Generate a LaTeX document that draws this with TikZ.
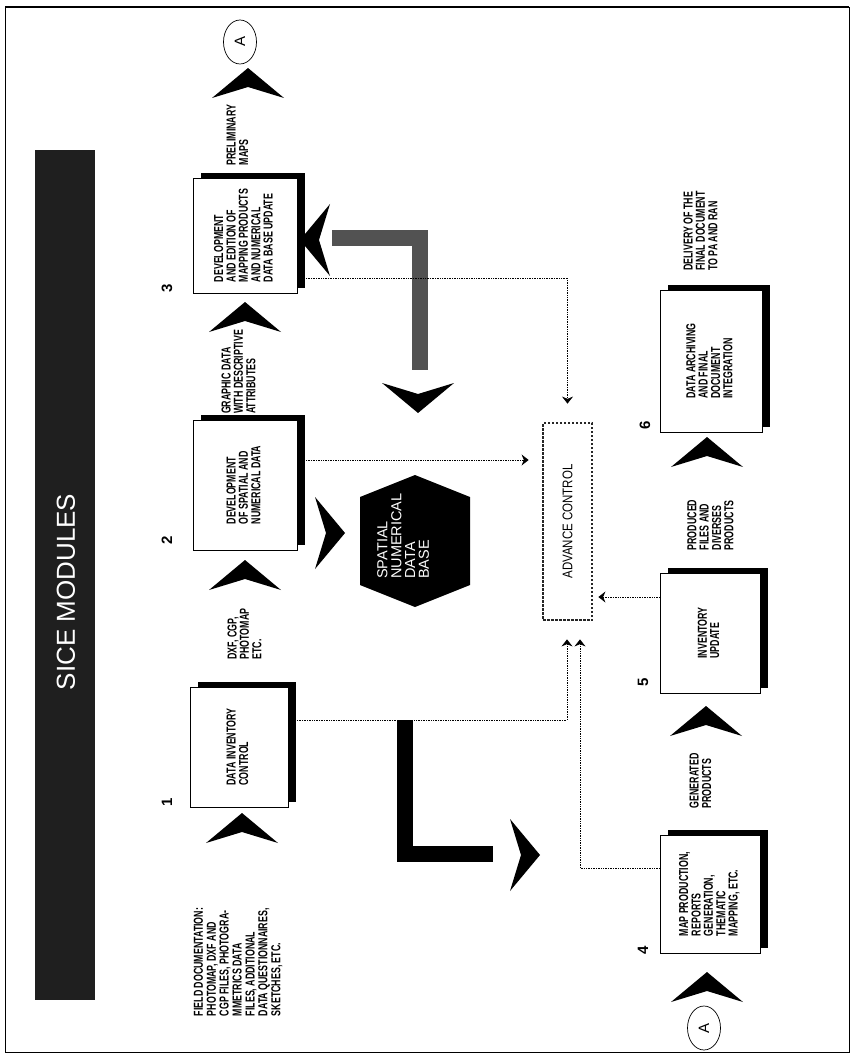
\documentclass[tikz,border=0pt]{standalone}
\usepackage{fontspec}
\setmainfont{Liberation Sans}
\newfontfamily\condfont[FakeStretch=0.68]{Liberation Sans}
\newfontfamily\midfont[FakeStretch=0.82]{Liberation Sans}
\usepackage{graphicx}
\usetikzlibrary{arrows.meta,positioning,shapes.geometric,shadows}
\newcommand{\rtext}[1]{\rotatebox{90}{\begin{tabular}{@{}l@{}}#1\end{tabular}}}

\begin{document}
\begin{tikzpicture}[x=1pt,y=-1pt]
  \tikzset{
    box/.style={draw,fill=white,line width=.7pt,inner sep=0pt,font=\condfont\bfseries\fontsize{13}{11}\selectfont,
      drop shadow={shadow xshift=8pt,shadow yshift=5pt,fill=black,opacity=1}},
    lbl/.style={inner sep=0pt,font=\condfont\bfseries\fontsize{13}{11}\selectfont},
    num/.style={inner sep=0pt,font=\bfseries\fontsize{15}{15}\selectfont},
    circA/.style={draw,ellipse,line width=.7pt,minimum width=33,minimum height=44,inner sep=0pt,font=\fontsize{15}{15}\selectfont},
    acbox/.style={draw=black!85,line width=2.8pt,dash pattern=on 2.5pt off 1.5pt,inner sep=0pt,font=\midfont\fontsize{14}{14}\selectfont},
    dotline/.style={densely dotted,line width=.7pt},
    dotarrow/.style={dotline,-{Stealth[length=7pt,width=11pt]}},
    chev/.pic={\fill (0,0) -- (36,30) -- (0,19) -- (-36,30) -- cycle;}
  }
  \useasboundingbox (0,0) rectangle (851,1064);
  \draw[line width=.6pt] (5,7) rectangle (849,1052);
  \draw[line width=2.5pt] (5,7) -- (849,7);

  \fill[black!88] (35,150) rectangle (95,1000);
  \node[text=white,inner sep=0pt,font=\fontsize{26}{26}\selectfont] (title) at (66,592) {\rotatebox{90}{SICE MODULES}};

  \node[box,minimum width=104,minimum height=115] (b3) at (245,235.5) {\rtext{DEVELOPMENT\\AND EDITION OF\\MAPPING PRODUCTS\\AND NUMERICAL\\DATA BASE UPDATE}};
  \node[box,minimum width=104,minimum height=130] (b2) at (245,485) {\rtext{DEVELOPMENT\\OF SPATIAL AND\\NUMERICAL DATA}};
  \node[box,minimum width=98,minimum height=120] (b1) at (239,747) {\rtext{DATA INVENTORY\\CONTROL}};
  \node[box,minimum width=102,minimum height=142] (b6) at (711,361) {\rtext{DATA ARCHIVING\\AND FINAL\\DOCUMENT\\INTEGRATION}};
  \node[box,minimum width=100,minimum height=120] (b5) at (710,633) {\rtext{INVENTORY\\UPDATE}};
  \node[box,minimum width=100,minimum height=118] (b4) at (710,894) {\rtext{MAP PRODUCTION,\\REPORTS\\GENERATION,\\THEMATIC\\MAPPING, ETC.}};

  \node[num] (n1) at (167,802) {\rotatebox{90}{1}};
  \node[num] (n2) at (167,540) {\rotatebox{90}{2}};
  \node[num] (n3) at (167,288) {\rotatebox{90}{3}};
  \node[num] (n4) at (643,950) {\rotatebox{90}{4}};
  \node[num] (n5) at (643,682) {\rotatebox{90}{5}};
  \node[num] (n6) at (645,425) {\rotatebox{90}{6}};

  \node[lbl,font=\condfont\bfseries\fontsize{13}{12.8}\selectfont] (field) at (239,962) {\rtext{FIELD DOCUMENTATION:\\PHOTOMAP, DXF AND\\CGP FILES, PHOTOGRA-\\MMETRICS DATA\\FILES, ADDITIONAL\\DATA QUESTIONNAIRES,\\SKETCHES, ETC.}};
  \node[lbl] (dxf) at (246,634) {\rtext{DXF, CGP,\\PHOTOMAP\\ETC.}};
  \node[lbl] (graphic) at (240,372) {\rtext{GRAPHIC DATA\\WITH DESCRIPTIVE\\ATTRIBUTES}};
  \node[lbl] (prelim) at (239,135) {\rtext{PRELIMINARY\\MAPS}};
  \node[lbl] (generated) at (702,781) {\rtext{GENERATED\\PRODUCTS}};
  \node[lbl] (produced) at (712,525) {\rtext{PRODUCED\\FILES AND\\DIVERSES\\PRODUCTS}};
  \node[lbl] (delivery) at (702,231) {\rtext{DELIVERY OF THE\\FINAL DOCUMENT\\TO PA AND RAN}};

  \node[circA] (atop) at (240,42) {\rotatebox{90}{A}};
  \node[circA] (abot) at (704,1028) {\rotatebox{90}{A}};

  \fill (415,475) -- (470,497) -- (470,585) -- (415,607) -- (360,585) -- (360,497) -- cycle;
  \node[text=white,inner sep=0pt,font=\fontsize{14.5}{12.5}\selectfont] (db) at (405,536) {\rtext{SPATIAL\\NUMERICAL\\DATA\\BASE}};

  \node[acbox,minimum width=49,minimum height=197] (ac) at (567.5,521.5) {\rotatebox{90}{ADVANCE CONTROL}};

  \pic at (242,813) {chev};
  \pic at (245,560) {chev};
  \pic at (245,302) {chev};
  \pic at (248,68) {chev};
  \pic at (707,972) {chev};
  \pic at (706,706) {chev};
  \pic at (707,437) {chev};
  \pic[rotate=-90] at (345,533) {chev};
  \pic[rotate=90] at (300,240) {chev};
  \pic[rotate=180] at (418,413) {chev};
  \pic[rotate=-90] at (540,855) {chev};

  \draw[black!68,line width=16pt] (332,238.5) -- (420,238.5) -- (420,370);
  \draw[black,line width=16pt] (404.5,720) -- (404.5,853.5) -- (493,853.5);

  \coordinate (t3) at (567.5,278);
  \coordinate (t2) at (520,460);
  \coordinate (t5) at (620,597);
  \coordinate (t1) at (567,720);
  \coordinate (t4) at (580,868);
  \draw[dotarrow,shorten >=18pt] (b3.east |- t3) -- (t3) -- (ac.north);
  \draw[dotarrow,shorten >=13pt] (b2.east |- t2) -- (ac.west |- t2);
  \draw[dotarrow,shorten >=5pt] (b5.west |- t5) -- (ac.east |- t5);
  \draw[dotarrow,shorten >=18pt] (b1.east |- t1) -- (t1) -- (ac.south -| t1);
  \draw[dotarrow,shorten >=18pt] (b4.west |- t4) -- (t4) -- (ac.south -| t4);
\end{tikzpicture}
\end{document}
